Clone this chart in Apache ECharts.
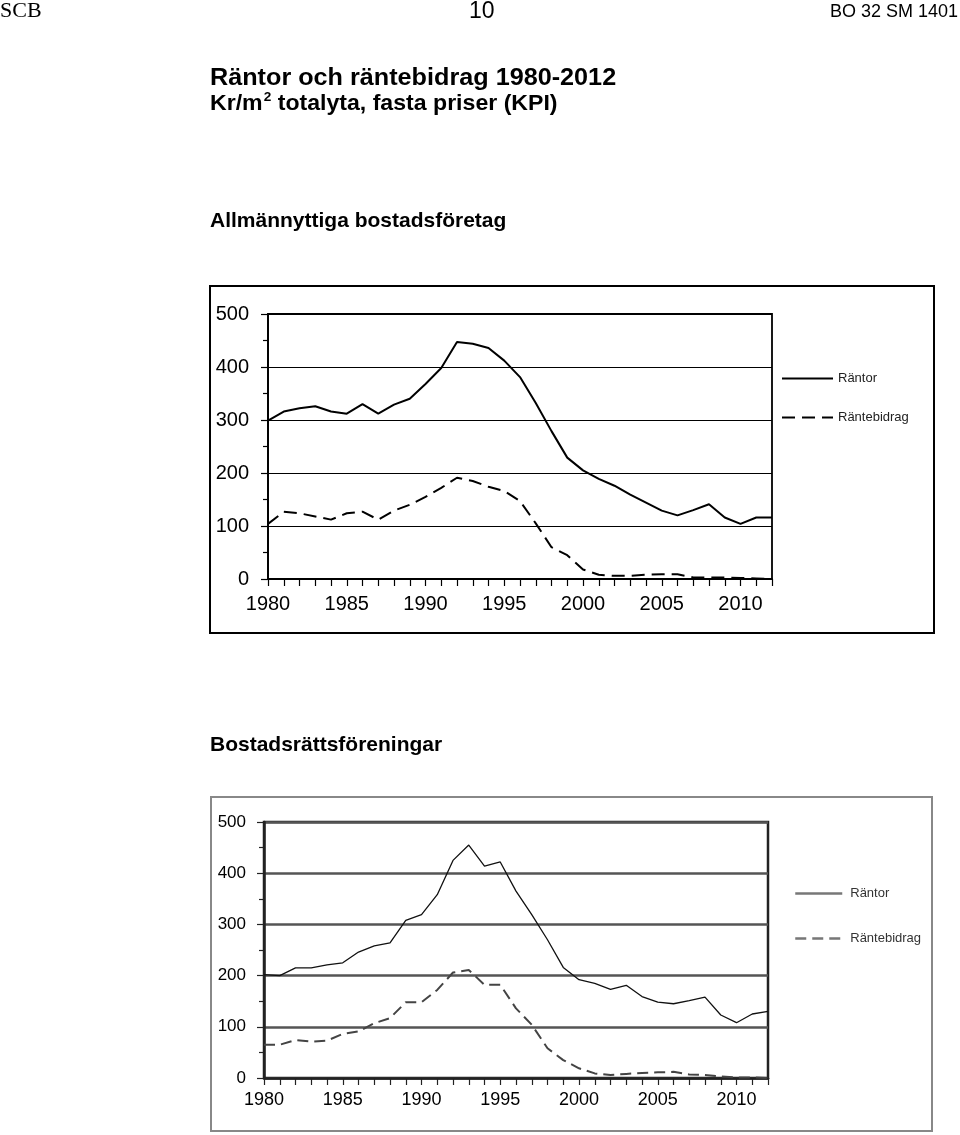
<!DOCTYPE html>
<html><head><meta charset="utf-8">
<script src="https://cdn.jsdelivr.net/npm/echarts@6/dist/echarts.min.js"></script>
<style>html,body{margin:0;padding:0;background:#fff}#c{width:960px;height:1135px}</style>
</head><body><div id="c"></div>
<script>
const years = [];
for (let y = 1980; y <= 2012; y++) years.push(y);

const allmRantor = [299,316,322,326,316,312,330,312,329,340,368,398,447,444,436,412,381,332,279,229,205,189,176,159,144,129,120,130,141,116,104,116,116];
const allmBidrag = [104,127,124,118,112,124,127,112,129,140,155,172,191,185,174,166,147,105,60,45,18,8,6,6,8,9,9,3,3,3,2,1,0];
const brfRantor = [202,200,215,215,221,225,246,258,264,308,319,358,425,455,414,422,365,319,270,216,192,185,173,181,159,148,145,151,158,123,108,125,130];
const brfBidrag = [65,65,74,71,73,86,91,107,117,148,148,172,206,211,182,182,136,104,58,35,19,9,6,8,10,11,12,7,6,3,1,1,0];

const yTicks = [0,100,200,300,400,500];
const xLabelYears = [1980,1985,1990,1995,2000,2005,2010];

const pair = (xs, ys) => xs.map((x, i) => [x, ys[i]]);

const chart = echarts.init(document.getElementById('c'), null, {renderer: 'canvas'});
const sans = 'Liberation Sans, Arial, sans-serif';

function xAxis(idx, col, fs, margin, lw) {
  return {
    type: 'value', gridIndex: idx, min: 1980, max: 2012, interval: 1,
    axisLine: {show: true, onZero: false, lineStyle: {color: col, width: lw}},
    axisTick: {show: true, length: 7, lineStyle: {color: col, width: 1.2}},
    axisLabel: {
      fontFamily: sans, fontSize: fs, color: '#000', margin: margin,
      formatter: v => xLabelYears.indexOf(v) >= 0 ? String(v) : ''
    },
    splitLine: {show: false}
  };
}
function yAxis(idx, col, fs, margin, lw, split) {
  return {
    type: 'value', gridIndex: idx, min: 0, max: 500, interval: 100,
    axisLine: {show: true, lineStyle: {color: col, width: lw}},
    axisTick: {show: true, length: 7, lineStyle: {color: col, width: 1.2}},
    minorTick: {show: true, splitNumber: 2, length: 5, lineStyle: {color: col, width: 1.2}},
    axisLabel: {fontFamily: sans, fontSize: fs, color: '#000', margin: margin,
      formatter: v => yTicks.indexOf(v) >= 0 ? String(v) : ''},
    splitLine: {show: true, lineStyle: split}
  };
}

chart.setOption({
  animation: false,
  grid: [
    {left: 268, right: 188, top: 314, bottom: 556, show: true, borderColor: '#000', borderWidth: 1.8, backgroundColor: 'transparent'},
    {left: 264, right: 192, top: 822, bottom: 57, show: true, borderColor: '#222', borderWidth: 2.5, backgroundColor: 'transparent'}
  ],
  xAxis: [xAxis(0, '#000', 20, 15, 1.8), xAxis(1, '#222', 18, 13, 2.5)],
  yAxis: [yAxis(0, '#000', 20, 19, 1.8, {color: '#000', width: 1}),
          yAxis(1, '#222', 17, 18, 2.5, {color: '#555', width: 2.6})],
  legend: [
    {orient: 'vertical', left: 781, top: 372, padding: 0, itemWidth: 51, itemHeight: 14, itemGap: 26,
     data: ['Räntor', 'Räntebidrag'], itemStyle: {opacity: 0, borderWidth: 0},
     textStyle: {fontFamily: sans, fontSize: 13, color: '#222'}, selectedMode: false},
    {orient: 'vertical', left: 794, top: 887, padding: 0, itemWidth: 47, itemHeight: 14, itemGap: 32,
     data: ['Räntor ', 'Räntebidrag '], itemStyle: {opacity: 0, borderWidth: 0},
     lineStyle: {color: '#777', width: 2.5},
     textStyle: {fontFamily: sans, fontSize: 13, color: '#333', padding: [0, 0, 0, 3]}, selectedMode: false}
  ],
  series: [
    {name: 'Räntor', type: 'line', xAxisIndex: 0, yAxisIndex: 0, data: pair(years, allmRantor),
     showSymbol: false, symbol: 'none', lineStyle: {color: '#000', width: 2}, itemStyle: {color: '#000'}},
    {name: 'Räntebidrag', type: 'line', xAxisIndex: 0, yAxisIndex: 0, data: pair(years, allmBidrag),
     showSymbol: false, symbol: 'none', lineStyle: {color: '#000', width: 2, type: [13, 7]}, itemStyle: {color: '#000'}},
    {name: 'Räntor ', type: 'line', xAxisIndex: 1, yAxisIndex: 1, data: pair(years, brfRantor),
     showSymbol: false, symbol: 'none', lineStyle: {color: '#111', width: 1.3}, itemStyle: {color: '#777'}},
    {name: 'Räntebidrag ', type: 'line', xAxisIndex: 1, yAxisIndex: 1, data: pair(years, brfBidrag),
     showSymbol: false, symbol: 'none', lineStyle: {color: '#444', width: 2, type: [11, 6]}, itemStyle: {color: '#777'}}
  ],
  graphic: [
    {type: 'rect', shape: {x: 210, y: 286, width: 724, height: 347}, style: {fill: 'none', stroke: '#000', lineWidth: 2}, silent: true, z: -1},
    {type: 'rect', shape: {x: 211, y: 797, width: 721, height: 334}, style: {fill: 'none', stroke: '#888', lineWidth: 2}, silent: true, z: -1},
    {type: 'text', x: 0, y: 0, style: {text: 'SCB', font: '22px "Liberation Serif", serif', fill: '#000'}},
    {type: 'text', x: 469, y: 0, style: {text: '10', font: '23px ' + sans, fill: '#000'}},
    {type: 'text', right: 2, top: 3, style: {text: 'BO 32 SM 1401', font: '18px ' + sans, fill: '#000'}},
    {type: 'text', x: 210, y: 66, scaleX: 1.05, style: {text: 'Räntor och räntebidrag 1980-2012', font: 'bold 24px ' + sans, fill: '#000'}},
    {type: 'text', x: 210, y: 91, scaleX: 1.05, style: {
      text: '{a|Kr/m}{s|2}{a| totalyta, fasta priser (KPI)}',
      rich: {
        a: {fontFamily: sans, fontWeight: 'bold', fontSize: 22, color: '#000', lineHeight: 24, verticalAlign: 'bottom'},
        s: {fontFamily: sans, fontWeight: 'bold', fontSize: 13, color: '#000', lineHeight: 24, verticalAlign: 'top', padding: [0, 0, 9, 1]}
      }}},
    {type: 'text', x: 210, y: 211, style: {text: 'Allmännyttiga bostadsföretag', font: 'bold 21px ' + sans, fill: '#000'}},
    {type: 'text', x: 210, y: 735, style: {text: 'Bostadsrättsföreningar', font: 'bold 21px ' + sans, fill: '#000'}}
  ]
});
</script></body></html>
